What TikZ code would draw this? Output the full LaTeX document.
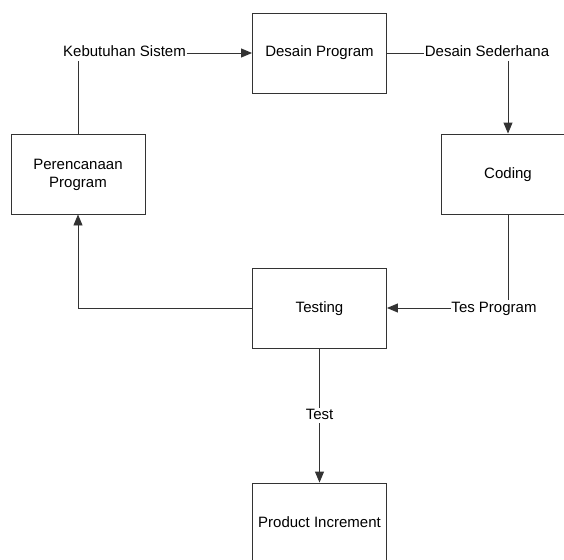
\documentclass[tikz,border=0pt]{standalone}
\usepackage{fontspec}
\setmainfont{Liberation Sans}
\usetikzlibrary{arrows.meta}
\begin{document}
\begin{tikzpicture}[
    x=1pt, y=-1pt,
    line width=0.9pt, draw=black!80,
    txt/.style={font=\fontsize{15}{18}\selectfont, text height=11pt, text depth=3pt},
    box/.style={txt, rectangle, draw=black!80, minimum width=134pt,
                minimum height=80pt, align=center},
    lbl/.style={txt, inner sep=0.5pt, fill=white},
    arr/.style={-{Triangle[length=11pt, width=9pt]}}
]
\useasboundingbox (0,0) rectangle (564,559);
\clip (0,0) rectangle (564,559);

\node (plan) [box, text height=29pt] at (78, 174) {Perencanaan\\Program};
\node (desain) [box] at (319.5, 53) {Desain Program};
\node (coding) [box] at (508, 174) {Coding};
\node (testing) [box] at (319.5, 308) {Testing};
\node (product) [box] at (319.5, 523) {Product Increment};

\node (kebutuhan) [lbl] at (124.5, 53) {Kebutuhan Sistem};
\node (sederhana) [lbl] at (487, 53) {Desain Sederhana};
\node (tesprog) [lbl] at (494, 308) {Tes Program};

\draw (plan.north) -- (plan.north |- kebutuhan.south);
\draw [arr] (kebutuhan.east) -- (desain.west);
\draw (desain.east) -- (sederhana.west);
\draw [arr] (sederhana.south -| coding.north) -- (coding.north);
\draw (coding.south) -- (coding.south |- tesprog.north);
\draw [arr] (tesprog.west) -- (testing.east);
\draw [arr] (testing.west) -| (plan.south);
\draw [arr] (testing.south) -- node [lbl] (test) {Test} (product.north);
\end{tikzpicture}
\end{document}
